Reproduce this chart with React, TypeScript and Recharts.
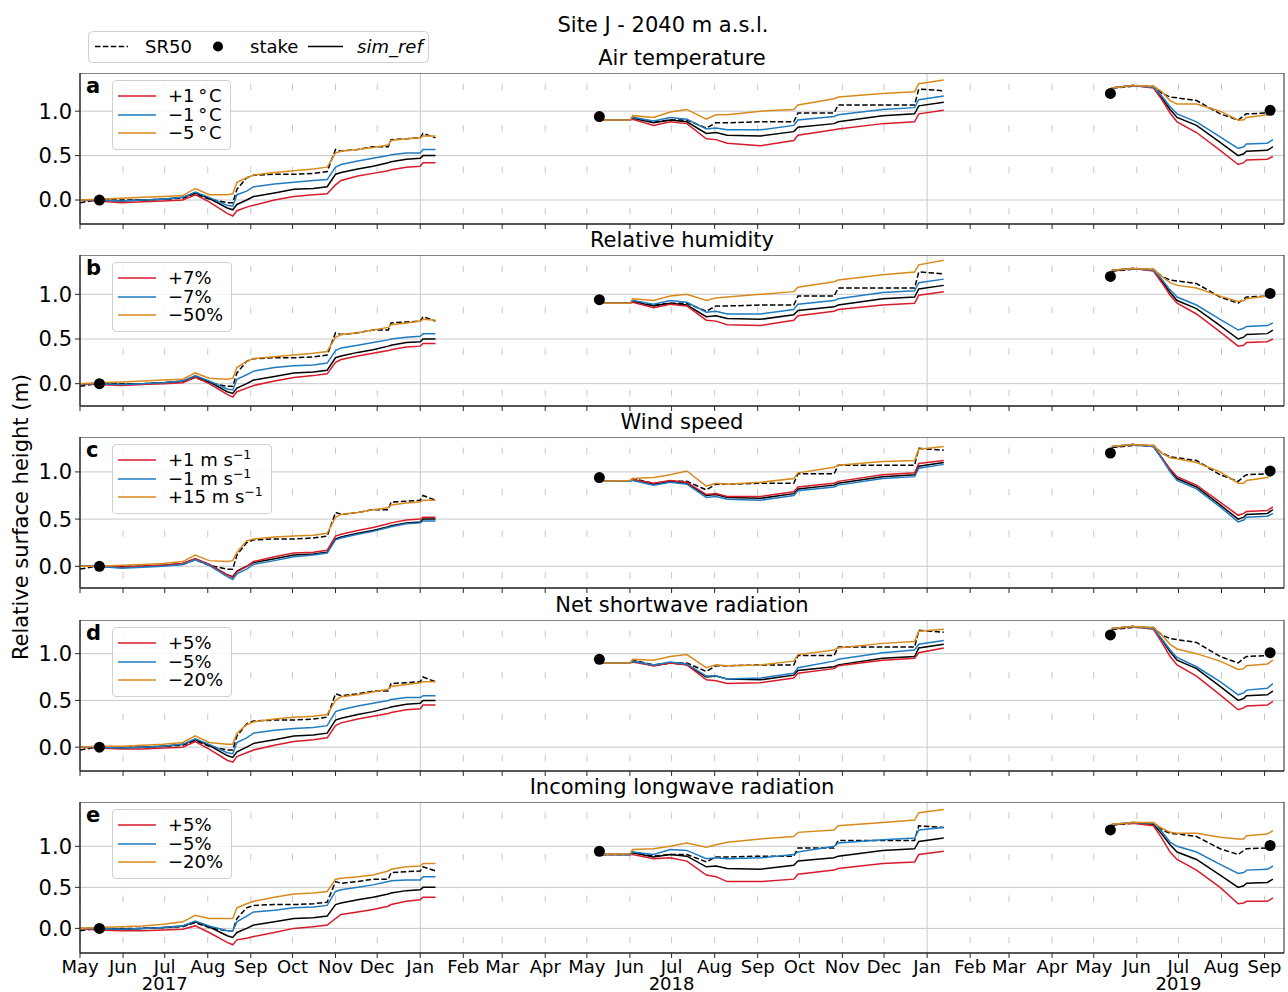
import {
  CartesianGrid,
  ComposedChart,
  Legend,
  Line,
  ReferenceArea,
  Scatter,
  XAxis,
  YAxis,
} from 'recharts'
import type { LegendProps } from 'recharts'

const FONT = '"DejaVu Sans", Verdana, sans-serif'
const RED = '#d81b2b'
const BLUE = '#1f7bc1'
const ORANGE = '#d98a1d'
const GRID = '#c8c8c8'
const SPINE = '#262626'

const WIDTH = 1288
const HEIGHT = 992
const PLOT_LEFT = 80
const PLOT_H = 151
const X_END = 867

const MONTH_NAMES = ['Jan', 'Feb', 'Mar', 'Apr', 'May', 'Jun', 'Jul', 'Aug', 'Sep', 'Oct', 'Nov', 'Dec']
const DAY_MS = 86400000
const T0 = Date.UTC(2017, 4, 1)
const MONTH_DAYS = Array.from({ length: 29 }, (_, m) => (Date.UTC(2017, 4 + m, 1) - T0) / DAY_MS)
const YEAR_DAYS = MONTH_DAYS.filter((d) => new Date(T0 + d * DAY_MS).getUTCMonth() === 0)
const MINOR_DAYS = MONTH_DAYS.filter((d) => new Date(T0 + d * DAY_MS).getUTCMonth() !== 0)

// days since 1 May 2017; the null rows split the three seasons
const DAYS = [
  0, 12, 30, 45, 60, 74, 83, 93, 106, 110, 113, 120, 125, 140, 154, 168, 178, 184, 188, 200, 211, 222, 224, 235, 245, 247, 256,
  300,
  375, 396, 398, 413, 425, 437, 451, 458, 466, 490, 514, 517, 543, 546, 578, 601, 604, 622,
  690,
  743, 758, 773, 779, 785, 790, 804, 821, 834, 838, 840, 855, 859,
]

const SR50 = [
  -0.03, 0.0, 0.0, 0.0, 0.01, 0.02, 0.07, 0.01, -0.03, -0.03, 0.12, 0.25, 0.28, 0.29, 0.29, 0.3, 0.32, 0.57, 0.55, 0.57, 0.6, 0.6, 0.68, 0.69, 0.7, 0.75, 0.7,
  null,
  0.9, 0.9, 0.93, 0.88, 0.9, 0.9, 0.81, 0.87, 0.87, 0.88, 0.88, 0.98, 0.98, 1.07, 1.07, 1.07, 1.25, 1.23,
  null,
  1.26, 1.28, 1.28, 1.2, 1.16, 1.15, 1.12, 0.97, 0.9, 0.95, 0.97, 0.98, 0.99,
]

const SIM_REF = [
  0, 0, -0.01, 0.0, 0.01, 0.03, 0.08, 0.02, -0.09, -0.11, -0.05, 0.0, 0.04, 0.08, 0.12, 0.13, 0.15, 0.29, 0.31, 0.35, 0.38, 0.42, 0.43, 0.46, 0.47, 0.5, 0.5,
  null,
  0.9, 0.9, 0.92, 0.87, 0.9, 0.88, 0.75, 0.76, 0.73, 0.72, 0.77, 0.82, 0.86, 0.88, 0.95, 0.97, 1.06, 1.1,
  null,
  1.26, 1.29, 1.27, 1.15, 1.02, 0.93, 0.84, 0.65, 0.5, 0.52, 0.55, 0.56, 0.6,
]

const STAKE_DAYS = [14, 374, 742, 857]
const STAKE_HEIGHT = [0.0, 0.94, 1.2, 1.01]

// a - air temperature
const AIR_RED = [
  0, -0.01, -0.03, -0.02, -0.01, 0.0, 0.06, -0.02, -0.15, -0.18, -0.12, -0.08, -0.06, 0.0, 0.04, 0.06, 0.07, 0.17, 0.22, 0.27, 0.3, 0.33, 0.34, 0.37, 0.38, 0.42, 0.42,
  null,
  0.9, 0.9, 0.91, 0.84, 0.88, 0.86, 0.69, 0.68, 0.64, 0.61, 0.67, 0.73, 0.79, 0.8, 0.86, 0.88, 0.97, 1.01,
  null,
  1.26, 1.29, 1.26, 1.13, 0.98, 0.88, 0.76, 0.56, 0.4, 0.42, 0.45, 0.46, 0.49,
]
const AIR_BLUE = [
  0, 0, -0.01, 0.0, 0.01, 0.03, 0.09, 0.03, -0.06, -0.07, 0.06, 0.1, 0.15, 0.18, 0.2, 0.22, 0.23, 0.37, 0.4, 0.44, 0.47, 0.5, 0.51, 0.53, 0.53, 0.57, 0.57,
  null,
  0.9, 0.9, 0.93, 0.89, 0.93, 0.91, 0.8, 0.81, 0.79, 0.79, 0.84, 0.9, 0.94, 0.96, 1.02, 1.04, 1.13, 1.17,
  null,
  1.26, 1.29, 1.27, 1.17, 1.05, 0.97, 0.88, 0.71, 0.58, 0.6, 0.63, 0.64, 0.68,
]
const AIR_ORANGE = [
  0, 0.01, 0.02, 0.03, 0.04, 0.05, 0.13, 0.06, 0.06, 0.07, 0.2, 0.25, 0.28, 0.31, 0.33, 0.35, 0.37, 0.53, 0.55, 0.57, 0.59, 0.62, 0.67, 0.69, 0.7, 0.72, 0.72,
  null,
  0.9, 0.9, 0.95, 0.93, 0.99, 1.02, 0.91, 0.96, 0.96, 1.0, 1.02, 1.07, 1.14, 1.16, 1.2, 1.22, 1.31, 1.35,
  null,
  1.26, 1.29, 1.28, 1.22, 1.12, 1.08, 1.08, 1.0, 0.9, 0.9, 0.93, 0.96, 1.0,
]

// b - relative humidity
const RH_RED = [
  0, -0.01, -0.02, -0.01, 0, 0.01, 0.07, 0.0, -0.12, -0.15, -0.09, -0.05, -0.02, 0.03, 0.07, 0.09, 0.11, 0.24, 0.27, 0.31, 0.34, 0.37, 0.38, 0.41, 0.42, 0.45, 0.45,
  null,
  0.9, 0.9, 0.91, 0.85, 0.89, 0.87, 0.71, 0.7, 0.66, 0.65, 0.71, 0.76, 0.81, 0.83, 0.88, 0.9, 0.99, 1.03,
  null,
  1.27, 1.29, 1.26, 1.13, 0.99, 0.9, 0.78, 0.58, 0.42, 0.43, 0.46, 0.47, 0.5,
]
const RH_BLUE = [
  0, 0, -0.01, 0, 0.01, 0.03, 0.09, 0.03, -0.06, -0.07, 0.05, 0.1, 0.14, 0.18, 0.2, 0.21, 0.23, 0.37, 0.4, 0.43, 0.46, 0.49, 0.5, 0.52, 0.53, 0.56, 0.56,
  null,
  0.9, 0.9, 0.93, 0.89, 0.93, 0.91, 0.8, 0.81, 0.78, 0.78, 0.83, 0.89, 0.93, 0.95, 1.02, 1.04, 1.13, 1.17,
  null,
  1.27, 1.29, 1.27, 1.17, 1.05, 0.97, 0.88, 0.72, 0.6, 0.62, 0.64, 0.65, 0.68,
]
const RH_ORANGE = [
  0, 0.01, 0.02, 0.03, 0.04, 0.05, 0.12, 0.06, 0.05, 0.06, 0.18, 0.25, 0.28, 0.3, 0.32, 0.34, 0.36, 0.52, 0.55, 0.57, 0.6, 0.63, 0.66, 0.68, 0.7, 0.72, 0.71,
  null,
  0.9, 0.9, 0.95, 0.93, 0.98, 1.0, 0.93, 0.96, 0.97, 1.0, 1.03, 1.08, 1.14, 1.16, 1.22, 1.25, 1.33, 1.38,
  null,
  1.27, 1.29, 1.28, 1.2, 1.13, 1.1, 1.07, 0.98, 0.92, 0.93, 0.95, 0.98, 1.0,
]

// c - wind speed
const WIND_RED = [
  0, 0, -0.01, 0, 0.01, 0.03, 0.08, 0.02, -0.09, -0.12, -0.06, 0.0, 0.05, 0.1, 0.14, 0.15, 0.17, 0.32, 0.34, 0.38, 0.41, 0.45, 0.46, 0.49, 0.5, 0.52, 0.52,
  null,
  0.9, 0.9, 0.92, 0.88, 0.91, 0.89, 0.76, 0.77, 0.74, 0.74, 0.79, 0.84, 0.88, 0.9, 0.97, 0.99, 1.09, 1.12,
  null,
  1.27, 1.29, 1.27, 1.15, 1.03, 0.95, 0.86, 0.68, 0.54, 0.56, 0.58, 0.59, 0.63,
]
const WIND_BLUE = [
  0, 0, -0.02, -0.01, 0, 0.02, 0.07, 0.01, -0.11, -0.14, -0.08, -0.03, 0.02, 0.06, 0.1, 0.12, 0.14, 0.28, 0.3, 0.34, 0.37, 0.41, 0.42, 0.45, 0.46, 0.48, 0.48,
  null,
  0.9, 0.9, 0.91, 0.86, 0.89, 0.87, 0.73, 0.74, 0.71, 0.7, 0.75, 0.8, 0.84, 0.86, 0.93, 0.95, 1.04, 1.08,
  null,
  1.27, 1.29, 1.27, 1.14, 1.0, 0.91, 0.82, 0.63, 0.47, 0.49, 0.52, 0.53, 0.56,
]
const WIND_ORANGE = [
  0, 0.0, 0.01, 0.02, 0.03, 0.05, 0.12, 0.06, 0.05, 0.06, 0.15, 0.27, 0.29, 0.31, 0.32, 0.33, 0.35, 0.52, 0.55, 0.57, 0.6, 0.62, 0.65, 0.67, 0.68, 0.7, 0.7,
  null,
  0.9, 0.91, 0.93, 0.94, 0.97, 1.01, 0.85, 0.88, 0.87, 0.89, 0.93, 0.99, 1.05, 1.07, 1.11, 1.12, 1.24, 1.27,
  null,
  1.27, 1.29, 1.28, 1.2, 1.15, 1.14, 1.1, 1.0, 0.88, 0.88, 0.91, 0.94, 0.98,
]

// d - net shortwave radiation
const SW_RED = [
  0, -0.01, -0.02, -0.02, -0.01, 0.0, 0.06, -0.02, -0.14, -0.16, -0.1, -0.06, -0.03, 0.02, 0.06, 0.08, 0.1, 0.23, 0.26, 0.3, 0.33, 0.36, 0.37, 0.4, 0.41, 0.45, 0.45,
  null,
  0.9, 0.9, 0.91, 0.87, 0.9, 0.88, 0.72, 0.71, 0.68, 0.69, 0.74, 0.79, 0.84, 0.87, 0.93, 0.95, 1.01, 1.06,
  null,
  1.27, 1.29, 1.26, 1.12, 0.97, 0.88, 0.76, 0.56, 0.4, 0.42, 0.44, 0.45, 0.49,
]
const SW_BLUE = [
  0, 0, -0.01, 0, 0.01, 0.03, 0.09, 0.03, -0.06, -0.07, 0.05, 0.1, 0.15, 0.18, 0.2, 0.21, 0.23, 0.38, 0.4, 0.44, 0.47, 0.5, 0.51, 0.53, 0.53, 0.55, 0.55,
  null,
  0.9, 0.9, 0.92, 0.88, 0.91, 0.89, 0.76, 0.76, 0.73, 0.74, 0.79, 0.85, 0.92, 0.94, 1.01, 1.04, 1.1, 1.14,
  null,
  1.27, 1.29, 1.27, 1.16, 1.04, 0.96, 0.86, 0.7, 0.56, 0.58, 0.61, 0.63, 0.68,
]
const SW_ORANGE = [
  0, 0.01, 0.01, 0.02, 0.03, 0.05, 0.12, 0.05, 0.03, 0.03, 0.15, 0.24, 0.27, 0.3, 0.32, 0.33, 0.35, 0.5, 0.54, 0.56, 0.59, 0.62, 0.65, 0.67, 0.69, 0.7, 0.7,
  null,
  0.9, 0.9, 0.94, 0.93, 0.97, 0.99, 0.85, 0.88, 0.87, 0.88, 0.92, 0.99, 1.04, 1.06, 1.11, 1.13, 1.24, 1.26,
  null,
  1.27, 1.29, 1.28, 1.2, 1.1, 1.05, 1.0, 0.92, 0.83, 0.84, 0.87, 0.89, 0.93,
]

// e - incoming longwave radiation
const LW_RED = [
  0, -0.02, -0.03, -0.03, -0.02, -0.01, 0.03, -0.05, -0.17, -0.2, -0.14, -0.12, -0.1, -0.05, 0.0, 0.02, 0.04, 0.12, 0.17, 0.2, 0.23, 0.27, 0.29, 0.33, 0.35, 0.38, 0.38,
  null,
  0.9, 0.9, 0.9, 0.85, 0.86, 0.82, 0.65, 0.63, 0.57, 0.57, 0.6, 0.66, 0.71, 0.73, 0.79, 0.81, 0.9, 0.94,
  null,
  1.27, 1.28, 1.25, 1.1, 0.93, 0.84, 0.71, 0.5, 0.3, 0.31, 0.33, 0.33, 0.37,
]
const LW_BLUE = [
  0, 0, -0.01, 0.0, 0.01, 0.03, 0.09, 0.03, -0.03, -0.03, 0.08, 0.15, 0.2, 0.22, 0.25, 0.26, 0.28, 0.45, 0.47, 0.5, 0.53, 0.57, 0.58, 0.59, 0.59, 0.63, 0.63,
  null,
  0.9, 0.9, 0.93, 0.9, 0.96, 0.95, 0.85, 0.86, 0.85, 0.86, 0.9, 0.93, 1.0, 1.04, 1.08, 1.1, 1.2, 1.23,
  null,
  1.27, 1.29, 1.28, 1.18, 1.05, 1.0, 0.93, 0.78, 0.67, 0.68, 0.71, 0.72, 0.76,
]
const LW_ORANGE = [
  0, 0.01, 0.02, 0.03, 0.05, 0.08, 0.16, 0.12, 0.12, 0.12, 0.25, 0.3, 0.33, 0.38, 0.42, 0.43, 0.45, 0.6, 0.61, 0.63, 0.65, 0.7, 0.72, 0.75, 0.76, 0.79, 0.79,
  null,
  0.9, 0.91, 0.96, 0.97, 1.0, 1.04, 0.99, 1.02, 1.05, 1.09, 1.12, 1.17, 1.2, 1.25, 1.29, 1.32, 1.41, 1.45,
  null,
  1.27, 1.29, 1.29, 1.22, 1.17, 1.16, 1.16, 1.11, 1.09, 1.09, 1.13, 1.15, 1.19,
]

interface Panel {
  letter: string
  title: string
  names: string[]
  red: (number | null)[]
  blue: (number | null)[]
  orange: (number | null)[]
  domain: [number, number]
  top: number
}

const PANELS: Panel[] = [
  {
    letter: 'a',
    title: 'Air temperature',
    names: ['+1\u2009°\u200aC', '−1\u2009°\u200aC', '−5\u2009°\u200aC'],
    red: AIR_RED,
    blue: AIR_BLUE,
    orange: AIR_ORANGE,
    domain: [-0.27, 1.43],
    top: 73,
  },
  {
    letter: 'b',
    title: 'Relative humidity',
    names: ['+7%', '−7%', '−50%'],
    red: RH_RED,
    blue: RH_BLUE,
    orange: RH_ORANGE,
    domain: [-0.25, 1.44],
    top: 255,
  },
  {
    letter: 'c',
    title: 'Wind speed',
    names: ['+1 m s^−1', '−1 m s^−1', '+15 m s^−1'],
    red: WIND_RED,
    blue: WIND_BLUE,
    orange: WIND_ORANGE,
    domain: [-0.23, 1.37],
    top: 437,
  },
  {
    letter: 'd',
    title: 'Net shortwave radiation',
    names: ['+5%', '−5%', '−20%'],
    red: SW_RED,
    blue: SW_BLUE,
    orange: SW_ORANGE,
    domain: [-0.255, 1.36],
    top: 620,
  },
  {
    letter: 'e',
    title: 'Incoming longwave radiation',
    names: ['+5%', '−5%', '−20%'],
    red: LW_RED,
    blue: LW_BLUE,
    orange: LW_ORANGE,
    domain: [-0.3, 1.54],
    top: 802,
  },
]

const STAKES = STAKE_DAYS.map((d, i) => ({ d, v: STAKE_HEIGHT[i] }))

function renderLabel(text: string) {
  const [base, sup] = text.split('^')
  return (
    <>
      {base}
      {sup && <sup style={{ fontSize: 12.5, lineHeight: 0 }}>{sup}</sup>}
    </>
  )
}

function PanelLegend({ payload }: LegendProps) {
  if (!payload?.length) return null
  const order = [RED, BLUE, ORANGE]
  const items = payload
    .filter((entry) => entry.type !== 'none' && order.includes(String(entry.color)))
    .sort((a, b) => order.indexOf(String(a.color)) - order.indexOf(String(b.color)))
  return (
    <div
      style={{
        background: 'rgba(255,255,255,0.8)',
        border: '1px solid #d0d0d0',
        borderRadius: 4,
        padding: '6px 8px 6px 5px',
        fontFamily: FONT,
        fontSize: 18,
        lineHeight: '18.5px',
        color: '#000',
      }}
    >
      {items.map((entry) => (
        <div key={String(entry.value)} style={{ display: 'flex', alignItems: 'center', whiteSpace: 'nowrap' }}>
          <svg width={38} height={4} style={{ marginRight: 12 }}>
            <line x1={0} x2={38} y1={2} y2={2} stroke={entry.color} strokeWidth={1.5} />
          </svg>
          <span>{renderLabel(String(entry.value))}</span>
        </div>
      ))}
    </div>
  )
}

function MonthTick({ x, y, payload }: { x?: number; y?: number; payload?: { value: number } }) {
  const date = new Date(T0 + (payload?.value ?? 0) * DAY_MS)
  const month = date.getUTCMonth()
  return (
    <g fontFamily={FONT} fontSize={18} fill="#000" textAnchor="middle">
      <text x={x} y={y} dy="0.72em">
        {MONTH_NAMES[month]}
      </text>
      {month === 6 && (
        <text x={x} y={y} dy="1.64em">
          {date.getUTCFullYear()}
        </text>
      )}
    </g>
  )
}

// upper panels keep tick marks but draw no labels
const NoTick = () => <g />

const StakeDot = (props: { cx?: number; cy?: number }) => (
  <circle cx={props.cx} cy={props.cy} r={5.5} fill="#000" />
)

function SeriesPanel({ panel, last }: { panel: Panel; last: boolean }) {
  const axisHeight = last ? 39 : 5
  const rows = DAYS.map((d, i) => ({
    d,
    sr50: SR50[i],
    simRef: SIM_REF[i],
    red: panel.red[i],
    blue: panel.blue[i],
    orange: panel.orange[i],
  }))
  const [lo, hi] = panel.domain
  return (
    <div style={{ position: 'absolute', left: 0, top: panel.top }}>
      <ComposedChart
        width={WIDTH}
        height={PLOT_H + axisHeight}
        data={rows}
        margin={{ top: 0, right: 4, bottom: 0, left: 0 }}
      >
        <CartesianGrid vertical={false} stroke={GRID} />
        <CartesianGrid horizontal={false} verticalValues={YEAR_DAYS} stroke={GRID} />
        <CartesianGrid
          horizontal={false}
          verticalValues={MINOR_DAYS}
          stroke={GRID}
          strokeDasharray="6.5 35"
          strokeDashoffset={31}
        />
        <XAxis
          type="number"
          dataKey="d"
          domain={[0, X_END]}
          ticks={MONTH_DAYS}
          interval={0}
          allowDataOverflow
          height={axisHeight}
          tickSize={5}
          tickMargin={2}
          stroke={SPINE}
          tick={last ? <MonthTick /> : <NoTick />}
        />
        <YAxis
          type="number"
          domain={panel.domain}
          ticks={[0, 0.5, 1]}
          allowDataOverflow
          width={PLOT_LEFT}
          tickSize={5}
          tickMargin={3}
          stroke={SPINE}
          tick={{ fontSize: 21, fill: '#000', fontFamily: FONT }}
          tickFormatter={(v: number) => v.toFixed(1)}
        />
        <ReferenceArea x1={0} x2={X_END} y1={lo} y2={hi} fill="none" stroke={SPINE} strokeWidth={1} />
        <Legend
          layout="vertical"
          align="center"
          verticalAlign="middle"
          wrapperStyle={{ left: 112, top: 7, width: 'auto' }}
          content={<PanelLegend />}
        />
        <Line
          type="linear"
          dataKey="sr50"
          name="SR50"
          stroke="#000"
          strokeWidth={1.5}
          strokeDasharray="5.5 2.4"
          dot={false}
          legendType="none"
          isAnimationActive={false}
        />
        <Line
          type="linear"
          dataKey="simRef"
          name="sim_ref"
          stroke="#000"
          strokeWidth={1.5}
          dot={false}
          legendType="none"
          isAnimationActive={false}
        />
        <Line type="linear" dataKey="red" name={panel.names[0]} stroke={RED} strokeWidth={1.5} dot={false} isAnimationActive={false} />
        <Line type="linear" dataKey="blue" name={panel.names[1]} stroke={BLUE} strokeWidth={1.5} dot={false} isAnimationActive={false} />
        <Line type="linear" dataKey="orange" name={panel.names[2]} stroke={ORANGE} strokeWidth={1.5} dot={false} isAnimationActive={false} />
        <Scatter data={STAKES} dataKey="v" name="stake" shape={StakeDot} legendType="none" isAnimationActive={false} />
      </ComposedChart>
    </div>
  )
}

export default function App() {
  return (
    <div
      style={{
        position: 'absolute',
        left: 0,
        top: 0,
        width: WIDTH,
        height: HEIGHT,
        overflow: 'hidden',
        background: '#fff',
        fontFamily: FONT,
      }}
    >
      {PANELS.map((p, i) => (
        <SeriesPanel key={p.letter} panel={p} last={i === PANELS.length - 1} />
      ))}
      <svg
        width={WIDTH}
        height={HEIGHT}
        style={{ position: 'absolute', left: 0, top: 0, pointerEvents: 'none' }}
        fontFamily={FONT}
        fill="#000"
      >
        <text x={663} y={31.5} textAnchor="middle" fontSize={21}>
          Site J - 2040 m a.s.l.
        </text>
        <text transform="translate(27.5, 517) rotate(-90)" textAnchor="middle" fontSize={21}>
          Relative surface height (m)
        </text>
        {PANELS.map((p) => (
          <g key={p.letter}>
            <text x={682} y={p.top - 8} textAnchor="middle" fontSize={21}>
              {p.title}
            </text>
            <text x={86} y={p.top + 20} fontSize={21} fontWeight="bold">
              {p.letter}
            </text>
          </g>
        ))}
        <g>
          <rect x={88.5} y={31.5} width={340} height={31} rx={4} fill="#fff" stroke="#d0d0d0" />
          <line x1={95} x2={128} y1={46.5} y2={46.5} stroke="#000" strokeWidth={1.5} strokeDasharray="5.5 2.4" />
          <text x={145} y={53} fontSize={18}>
            SR50
          </text>
          <circle cx={218} cy={46.5} r={5} fill="#000" />
          <text x={250} y={53} fontSize={18}>
            stake
          </text>
          <line x1={308} x2={343} y1={46.5} y2={46.5} stroke="#000" strokeWidth={1.5} />
          <text x={357} y={53} fontSize={18} fontStyle="italic">
            sim_ref
          </text>
        </g>
      </svg>
    </div>
  )
}
